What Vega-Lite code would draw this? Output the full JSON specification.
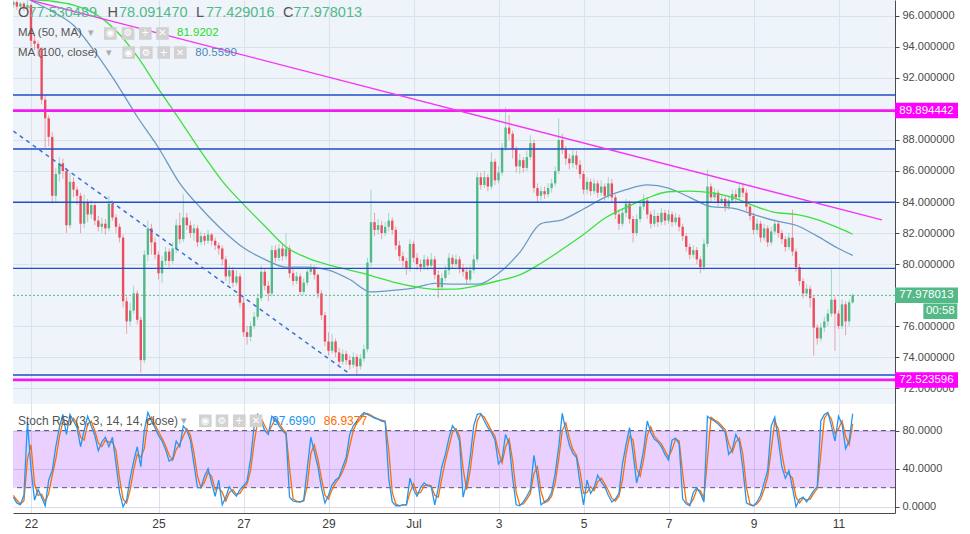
{
  "$schema": "https://vega.github.io/schema/vega-lite/v6.json",
  "background": "white",
  "padding": {"left": 11, "top": 0, "right": 0, "bottom": 0},
  "spacing": 0,
  "config": {
    "view": {"stroke": null},
    "text": {"font": "Liberation Sans"},
    "axis": {"labelFont": "Liberation Sans", "labelColor": "#4a4a4a", "domainColor": "#4a4a4a", "gridColor": "#d9e3ee", "tickColor": "#4a4a4a"}
  },
  "data": {
    "format": {"parse": {"t": "date"}},
    "values": [
      {"t":"2018-06-21T14:00Z","o":96.7,"h":97.0,"l":96.5,"c":96.9,"k":10,"d":12},
      {"t":"2018-06-21T16:00Z","o":96.9,"h":97.0,"l":96.4,"c":96.6,"k":4,"d":7},
      {"t":"2018-06-21T18:00Z","o":96.6,"h":96.9,"l":96.4,"c":96.8,"k":2,"d":3},
      {"t":"2018-06-21T20:00Z","o":96.8,"h":96.9,"l":96.3,"c":96.5,"k":12,"d":6},
      {"t":"2018-06-21T22:00Z","o":96.5,"h":97.0,"l":96.3,"c":96.7,"k":89,"d":50},
      {"t":"2018-06-22T00:00Z","o":96.7,"h":96.8,"l":94.0,"c":94.4,"k":40,"d":65},
      {"t":"2018-06-22T02:00Z","o":94.4,"h":94.8,"l":93.8,"c":94.2,"k":7,"d":24},
      {"t":"2018-06-22T04:00Z","o":94.2,"h":94.4,"l":93.4,"c":93.9,"k":18,"d":12},
      {"t":"2018-06-22T06:00Z","o":93.9,"h":94.0,"l":90.3,"c":90.6,"k":10,"d":13},
      {"t":"2018-06-22T08:00Z","o":90.6,"h":90.9,"l":87.5,"c":89.4,"k":1,"d":5},
      {"t":"2018-06-22T10:00Z","o":89.4,"h":89.6,"l":87.6,"c":88.2,"k":28,"d":14},
      {"t":"2018-06-22T12:00Z","o":88.2,"h":88.5,"l":83.9,"c":84.4,"k":38,"d":33},
      {"t":"2018-06-22T14:00Z","o":84.4,"h":86.2,"l":84.0,"c":85.8,"k":63,"d":50},
      {"t":"2018-06-22T16:00Z","o":85.8,"h":86.9,"l":85.3,"c":86.5,"k":83,"d":73},
      {"t":"2018-06-22T18:00Z","o":86.5,"h":86.8,"l":85.5,"c":86.0,"k":97,"d":90},
      {"t":"2018-06-22T20:00Z","o":86.0,"h":86.2,"l":82.0,"c":82.5,"k":76,"d":86},
      {"t":"2018-06-22T22:00Z","o":82.5,"h":85.9,"l":82.3,"c":85.3,"k":97,"d":86},
      {"t":"2018-06-23T00:00Z","o":85.3,"h":85.6,"l":84.3,"c":84.8,"k":90,"d":93},
      {"t":"2018-06-23T02:00Z","o":84.8,"h":85.0,"l":83.8,"c":84.4,"k":83,"d":87},
      {"t":"2018-06-23T04:00Z","o":84.4,"h":84.6,"l":82.0,"c":82.6,"k":63,"d":73},
      {"t":"2018-06-23T06:00Z","o":82.6,"h":84.5,"l":82.3,"c":84.0,"k":80,"d":70},
      {"t":"2018-06-23T08:00Z","o":84.0,"h":84.2,"l":82.7,"c":83.2,"k":95,"d":87},
      {"t":"2018-06-23T10:00Z","o":83.2,"h":84.1,"l":82.9,"c":83.8,"k":85,"d":90},
      {"t":"2018-06-23T12:00Z","o":83.8,"h":84.0,"l":82.5,"c":82.8,"k":75,"d":80},
      {"t":"2018-06-23T14:00Z","o":82.8,"h":83.1,"l":82.1,"c":82.4,"k":59,"d":67},
      {"t":"2018-06-23T16:00Z","o":82.4,"h":83.0,"l":82.0,"c":82.6,"k":68,"d":63},
      {"t":"2018-06-23T18:00Z","o":82.6,"h":82.9,"l":81.9,"c":82.3,"k":73,"d":70},
      {"t":"2018-06-23T20:00Z","o":82.3,"h":84.4,"l":82.1,"c":83.9,"k":63,"d":68},
      {"t":"2018-06-23T22:00Z","o":83.9,"h":84.1,"l":82.8,"c":83.0,"k":73,"d":68},
      {"t":"2018-06-24T00:00Z","o":83.0,"h":83.2,"l":82.0,"c":82.4,"k":45,"d":59},
      {"t":"2018-06-24T02:00Z","o":82.4,"h":82.6,"l":81.4,"c":81.7,"k":15,"d":30},
      {"t":"2018-06-24T04:00Z","o":81.7,"h":81.9,"l":77.2,"c":77.6,"k":0,"d":8},
      {"t":"2018-06-24T06:00Z","o":77.6,"h":77.9,"l":75.5,"c":76.3,"k":7,"d":4},
      {"t":"2018-06-24T08:00Z","o":76.3,"h":77.5,"l":76.0,"c":77.0,"k":30,"d":18},
      {"t":"2018-06-24T10:00Z","o":77.0,"h":78.6,"l":76.8,"c":78.1,"k":48,"d":39},
      {"t":"2018-06-24T12:00Z","o":78.1,"h":78.3,"l":76.1,"c":76.4,"k":63,"d":55},
      {"t":"2018-06-24T14:00Z","o":76.4,"h":76.6,"l":73.0,"c":73.8,"k":42,"d":52},
      {"t":"2018-06-24T16:00Z","o":73.8,"h":80.9,"l":73.6,"c":80.6,"k":80,"d":61},
      {"t":"2018-06-24T18:00Z","o":80.6,"h":82.8,"l":80.2,"c":82.3,"k":99,"d":90},
      {"t":"2018-06-24T20:00Z","o":82.3,"h":82.6,"l":80.6,"c":81.4,"k":90,"d":94},
      {"t":"2018-06-24T22:00Z","o":81.4,"h":81.7,"l":80.3,"c":80.6,"k":83,"d":86},
      {"t":"2018-06-25T00:00Z","o":80.6,"h":80.8,"l":79.0,"c":79.4,"k":75,"d":79},
      {"t":"2018-06-25T02:00Z","o":79.4,"h":80.5,"l":78.8,"c":80.2,"k":69,"d":72},
      {"t":"2018-06-25T04:00Z","o":80.2,"h":81.1,"l":79.9,"c":80.8,"k":60,"d":64},
      {"t":"2018-06-25T06:00Z","o":80.8,"h":81.0,"l":79.8,"c":80.2,"k":48,"d":54},
      {"t":"2018-06-25T08:00Z","o":80.2,"h":81.4,"l":80.0,"c":81.0,"k":50,"d":49},
      {"t":"2018-06-25T10:00Z","o":81.0,"h":82.9,"l":80.7,"c":82.5,"k":69,"d":60},
      {"t":"2018-06-25T12:00Z","o":82.5,"h":83.3,"l":81.3,"c":81.6,"k":63,"d":66},
      {"t":"2018-06-25T14:00Z","o":81.6,"h":84.5,"l":81.4,"c":83.0,"k":85,"d":74},
      {"t":"2018-06-25T16:00Z","o":83.0,"h":83.3,"l":82.2,"c":82.5,"k":80,"d":82},
      {"t":"2018-06-25T18:00Z","o":82.5,"h":82.8,"l":81.7,"c":82.0,"k":70,"d":75},
      {"t":"2018-06-25T20:00Z","o":82.0,"h":82.6,"l":81.5,"c":82.3,"k":45,"d":57},
      {"t":"2018-06-25T22:00Z","o":82.3,"h":82.5,"l":81.1,"c":81.4,"k":20,"d":32},
      {"t":"2018-06-26T00:00Z","o":81.4,"h":82.1,"l":81.2,"c":81.8,"k":20,"d":20},
      {"t":"2018-06-26T02:00Z","o":81.8,"h":82.0,"l":81.2,"c":81.5,"k":32,"d":26},
      {"t":"2018-06-26T04:00Z","o":81.5,"h":82.2,"l":81.3,"c":81.9,"k":40,"d":36},
      {"t":"2018-06-26T06:00Z","o":81.9,"h":82.0,"l":81.2,"c":81.5,"k":25,"d":32},
      {"t":"2018-06-26T08:00Z","o":81.5,"h":81.7,"l":80.9,"c":81.2,"k":11,"d":18},
      {"t":"2018-06-26T10:00Z","o":81.2,"h":81.4,"l":80.6,"c":81.0,"k":28,"d":20},
      {"t":"2018-06-26T12:00Z","o":81.0,"h":81.2,"l":79.9,"c":80.3,"k":2,"d":15},
      {"t":"2018-06-26T14:00Z","o":80.3,"h":80.5,"l":78.9,"c":79.2,"k":10,"d":6},
      {"t":"2018-06-26T16:00Z","o":79.2,"h":79.9,"l":78.7,"c":79.6,"k":21,"d":15},
      {"t":"2018-06-26T18:00Z","o":79.6,"h":79.8,"l":78.5,"c":78.8,"k":15,"d":18},
      {"t":"2018-06-26T20:00Z","o":78.8,"h":79.6,"l":78.6,"c":79.2,"k":11,"d":13},
      {"t":"2018-06-26T22:00Z","o":79.2,"h":79.4,"l":77.2,"c":77.5,"k":18,"d":14},
      {"t":"2018-06-27T00:00Z","o":77.5,"h":77.8,"l":75.3,"c":75.6,"k":22,"d":20},
      {"t":"2018-06-27T02:00Z","o":75.6,"h":76.0,"l":74.8,"c":75.3,"k":27,"d":24},
      {"t":"2018-06-27T04:00Z","o":75.3,"h":76.3,"l":75.0,"c":76.0,"k":50,"d":38},
      {"t":"2018-06-27T06:00Z","o":76.0,"h":76.9,"l":75.8,"c":76.6,"k":85,"d":67},
      {"t":"2018-06-27T08:00Z","o":76.6,"h":78.1,"l":76.4,"c":77.8,"k":97,"d":90},
      {"t":"2018-06-27T10:00Z","o":77.8,"h":79.9,"l":77.6,"c":79.5,"k":90,"d":93},
      {"t":"2018-06-27T12:00Z","o":79.5,"h":79.7,"l":78.3,"c":78.6,"k":80,"d":85},
      {"t":"2018-06-27T14:00Z","o":78.6,"h":78.9,"l":77.6,"c":78.1,"k":76,"d":78},
      {"t":"2018-06-27T16:00Z","o":78.1,"h":81.2,"l":77.9,"c":80.9,"k":95,"d":85},
      {"t":"2018-06-27T18:00Z","o":80.9,"h":81.2,"l":80.1,"c":80.4,"k":92,"d":93},
      {"t":"2018-06-27T20:00Z","o":80.4,"h":81.3,"l":80.2,"c":81.0,"k":85,"d":88},
      {"t":"2018-06-27T22:00Z","o":81.0,"h":81.3,"l":80.2,"c":80.5,"k":80,"d":82},
      {"t":"2018-06-28T00:00Z","o":80.5,"h":82.0,"l":80.3,"c":81.0,"k":76,"d":78},
      {"t":"2018-06-28T02:00Z","o":81.0,"h":81.2,"l":79.1,"c":79.4,"k":10,"d":40},
      {"t":"2018-06-28T04:00Z","o":79.4,"h":79.7,"l":78.6,"c":78.9,"k":6,"d":8},
      {"t":"2018-06-28T06:00Z","o":78.9,"h":79.5,"l":78.7,"c":79.2,"k":5,"d":6},
      {"t":"2018-06-28T08:00Z","o":79.2,"h":79.4,"l":78.0,"c":78.2,"k":5,"d":5},
      {"t":"2018-06-28T10:00Z","o":78.2,"h":79.1,"l":78.0,"c":78.8,"k":7,"d":6},
      {"t":"2018-06-28T12:00Z","o":78.8,"h":79.8,"l":78.6,"c":79.5,"k":40,"d":22},
      {"t":"2018-06-28T14:00Z","o":79.5,"h":80.0,"l":79.3,"c":79.7,"k":73,"d":56},
      {"t":"2018-06-28T16:00Z","o":79.7,"h":79.9,"l":79.0,"c":79.3,"k":58,"d":65},
      {"t":"2018-06-28T18:00Z","o":79.3,"h":79.4,"l":77.8,"c":78.1,"k":42,"d":50},
      {"t":"2018-06-28T20:00Z","o":78.1,"h":78.3,"l":76.4,"c":76.7,"k":20,"d":30},
      {"t":"2018-06-28T22:00Z","o":76.7,"h":76.9,"l":74.7,"c":75.0,"k":4,"d":12},
      {"t":"2018-06-29T00:00Z","o":75.0,"h":75.6,"l":74.1,"c":74.4,"k":12,"d":8},
      {"t":"2018-06-29T02:00Z","o":74.4,"h":75.5,"l":74.2,"c":75.0,"k":23,"d":18},
      {"t":"2018-06-29T04:00Z","o":75.0,"h":75.2,"l":74.0,"c":74.3,"k":28,"d":25},
      {"t":"2018-06-29T06:00Z","o":74.3,"h":74.6,"l":73.4,"c":73.7,"k":31,"d":30},
      {"t":"2018-06-29T08:00Z","o":73.7,"h":74.5,"l":73.5,"c":74.2,"k":42,"d":37},
      {"t":"2018-06-29T10:00Z","o":74.2,"h":74.4,"l":73.5,"c":73.8,"k":52,"d":47},
      {"t":"2018-06-29T12:00Z","o":73.8,"h":74.1,"l":73.2,"c":73.5,"k":76,"d":64},
      {"t":"2018-06-29T14:00Z","o":73.5,"h":74.3,"l":73.3,"c":74.0,"k":85,"d":80},
      {"t":"2018-06-29T16:00Z","o":74.0,"h":74.2,"l":72.8,"c":73.4,"k":90,"d":88},
      {"t":"2018-06-29T18:00Z","o":73.4,"h":74.2,"l":73.2,"c":73.9,"k":95,"d":92},
      {"t":"2018-06-29T20:00Z","o":73.9,"h":74.8,"l":73.7,"c":74.5,"k":99,"d":97},
      {"t":"2018-06-29T22:00Z","o":74.5,"h":80.4,"l":74.3,"c":80.1,"k":97,"d":98},
      {"t":"2018-06-30T00:00Z","o":80.1,"h":84.8,"l":79.8,"c":82.7,"k":95,"d":96},
      {"t":"2018-06-30T02:00Z","o":82.7,"h":83.3,"l":81.8,"c":82.2,"k":93,"d":94},
      {"t":"2018-06-30T04:00Z","o":82.2,"h":82.9,"l":81.9,"c":82.5,"k":92,"d":92},
      {"t":"2018-06-30T06:00Z","o":82.5,"h":82.8,"l":81.6,"c":82.0,"k":90,"d":91},
      {"t":"2018-06-30T08:00Z","o":82.0,"h":82.7,"l":81.8,"c":82.4,"k":89,"d":90},
      {"t":"2018-06-30T10:00Z","o":82.4,"h":83.3,"l":82.1,"c":82.8,"k":30,"d":60},
      {"t":"2018-06-30T12:00Z","o":82.8,"h":83.0,"l":81.9,"c":82.2,"k":5,"d":15},
      {"t":"2018-06-30T14:00Z","o":82.2,"h":82.4,"l":80.9,"c":81.2,"k":1,"d":3},
      {"t":"2018-06-30T16:00Z","o":81.2,"h":81.5,"l":80.2,"c":80.5,"k":1,"d":1},
      {"t":"2018-06-30T18:00Z","o":80.5,"h":80.8,"l":79.8,"c":80.2,"k":2,"d":2},
      {"t":"2018-06-30T20:00Z","o":80.2,"h":80.4,"l":79.3,"c":79.7,"k":2,"d":2},
      {"t":"2018-06-30T22:00Z","o":79.7,"h":81.6,"l":79.5,"c":81.3,"k":30,"d":15},
      {"t":"2018-07-01T00:00Z","o":81.3,"h":81.5,"l":80.1,"c":80.4,"k":18,"d":24},
      {"t":"2018-07-01T02:00Z","o":80.4,"h":80.7,"l":79.6,"c":80.0,"k":11,"d":14},
      {"t":"2018-07-01T04:00Z","o":80.0,"h":80.3,"l":79.5,"c":79.8,"k":20,"d":15},
      {"t":"2018-07-01T06:00Z","o":79.8,"h":80.6,"l":79.6,"c":80.3,"k":25,"d":22},
      {"t":"2018-07-01T08:00Z","o":80.3,"h":80.5,"l":79.6,"c":79.9,"k":22,"d":23},
      {"t":"2018-07-01T10:00Z","o":79.9,"h":80.7,"l":79.7,"c":80.3,"k":21,"d":22},
      {"t":"2018-07-01T12:00Z","o":80.3,"h":80.5,"l":79.0,"c":79.3,"k":2,"d":12},
      {"t":"2018-07-01T14:00Z","o":79.3,"h":79.6,"l":77.8,"c":78.5,"k":20,"d":10},
      {"t":"2018-07-01T16:00Z","o":78.5,"h":79.4,"l":78.3,"c":79.1,"k":42,"d":30},
      {"t":"2018-07-01T18:00Z","o":79.1,"h":79.9,"l":78.9,"c":79.6,"k":55,"d":48},
      {"t":"2018-07-01T20:00Z","o":79.6,"h":80.7,"l":79.3,"c":80.4,"k":72,"d":63},
      {"t":"2018-07-01T22:00Z","o":80.4,"h":80.6,"l":79.7,"c":80.0,"k":85,"d":78},
      {"t":"2018-07-02T00:00Z","o":80.0,"h":80.6,"l":79.8,"c":80.3,"k":80,"d":82},
      {"t":"2018-07-02T02:00Z","o":80.3,"h":80.5,"l":79.4,"c":79.7,"k":69,"d":74},
      {"t":"2018-07-02T04:00Z","o":79.7,"h":80.0,"l":79.2,"c":79.5,"k":10,"d":40},
      {"t":"2018-07-02T06:00Z","o":79.5,"h":79.8,"l":78.7,"c":79.0,"k":25,"d":18},
      {"t":"2018-07-02T08:00Z","o":79.0,"h":79.9,"l":78.8,"c":79.6,"k":52,"d":38},
      {"t":"2018-07-02T10:00Z","o":79.6,"h":80.6,"l":79.4,"c":80.3,"k":85,"d":68},
      {"t":"2018-07-02T12:00Z","o":80.3,"h":85.9,"l":80.1,"c":85.6,"k":97,"d":90},
      {"t":"2018-07-02T14:00Z","o":85.6,"h":85.9,"l":84.8,"c":85.1,"k":98,"d":97},
      {"t":"2018-07-02T16:00Z","o":85.1,"h":86.0,"l":84.9,"c":85.6,"k":90,"d":94},
      {"t":"2018-07-02T18:00Z","o":85.6,"h":85.8,"l":84.7,"c":85.0,"k":83,"d":87},
      {"t":"2018-07-02T20:00Z","o":85.0,"h":87.2,"l":84.8,"c":86.6,"k":78,"d":80},
      {"t":"2018-07-02T22:00Z","o":86.6,"h":86.8,"l":85.1,"c":85.4,"k":70,"d":74},
      {"t":"2018-07-03T00:00Z","o":85.4,"h":86.3,"l":85.2,"c":85.9,"k":45,"d":58},
      {"t":"2018-07-03T02:00Z","o":85.9,"h":87.8,"l":85.7,"c":87.5,"k":50,"d":46},
      {"t":"2018-07-03T04:00Z","o":87.5,"h":90.1,"l":87.3,"c":88.8,"k":76,"d":63},
      {"t":"2018-07-03T06:00Z","o":88.8,"h":89.6,"l":88.0,"c":88.4,"k":66,"d":71},
      {"t":"2018-07-03T08:00Z","o":88.4,"h":88.6,"l":86.8,"c":87.4,"k":30,"d":48},
      {"t":"2018-07-03T10:00Z","o":87.4,"h":87.6,"l":85.9,"c":86.3,"k":2,"d":15},
      {"t":"2018-07-03T12:00Z","o":86.3,"h":87.1,"l":85.8,"c":86.7,"k":1,"d":2},
      {"t":"2018-07-03T14:00Z","o":86.7,"h":86.9,"l":85.9,"c":86.2,"k":5,"d":3},
      {"t":"2018-07-03T16:00Z","o":86.2,"h":87.3,"l":86.0,"c":86.9,"k":11,"d":8},
      {"t":"2018-07-03T18:00Z","o":86.9,"h":88.3,"l":86.7,"c":87.8,"k":18,"d":14},
      {"t":"2018-07-03T20:00Z","o":87.8,"h":88.0,"l":84.6,"c":84.9,"k":54,"d":35},
      {"t":"2018-07-03T22:00Z","o":84.9,"h":85.2,"l":84.0,"c":84.4,"k":31,"d":42},
      {"t":"2018-07-04T00:00Z","o":84.4,"h":85.0,"l":84.1,"c":84.7,"k":2,"d":16},
      {"t":"2018-07-04T02:00Z","o":84.7,"h":85.0,"l":84.2,"c":84.5,"k":5,"d":4},
      {"t":"2018-07-04T04:00Z","o":84.5,"h":85.2,"l":84.3,"c":84.9,"k":8,"d":6},
      {"t":"2018-07-04T06:00Z","o":84.9,"h":85.5,"l":84.6,"c":85.2,"k":15,"d":11},
      {"t":"2018-07-04T08:00Z","o":85.2,"h":86.3,"l":85.0,"c":86.0,"k":35,"d":25},
      {"t":"2018-07-04T10:00Z","o":86.0,"h":89.4,"l":85.8,"c":88.0,"k":63,"d":50},
      {"t":"2018-07-04T12:00Z","o":88.0,"h":88.4,"l":87.1,"c":87.4,"k":98,"d":80},
      {"t":"2018-07-04T14:00Z","o":87.4,"h":87.6,"l":86.4,"c":86.8,"k":80,"d":88},
      {"t":"2018-07-04T16:00Z","o":86.8,"h":87.1,"l":86.1,"c":86.5,"k":65,"d":72},
      {"t":"2018-07-04T18:00Z","o":86.5,"h":87.4,"l":86.2,"c":87.0,"k":56,"d":60},
      {"t":"2018-07-04T20:00Z","o":87.0,"h":87.3,"l":86.1,"c":86.4,"k":52,"d":54},
      {"t":"2018-07-04T22:00Z","o":86.4,"h":86.7,"l":85.5,"c":85.8,"k":25,"d":38},
      {"t":"2018-07-05T00:00Z","o":85.8,"h":86.0,"l":84.5,"c":84.8,"k":2,"d":14},
      {"t":"2018-07-05T02:00Z","o":84.8,"h":85.6,"l":84.5,"c":85.3,"k":28,"d":15},
      {"t":"2018-07-05T04:00Z","o":85.3,"h":85.5,"l":84.4,"c":84.7,"k":14,"d":21},
      {"t":"2018-07-05T06:00Z","o":84.7,"h":85.5,"l":84.5,"c":85.2,"k":20,"d":17},
      {"t":"2018-07-05T08:00Z","o":85.2,"h":85.4,"l":84.3,"c":84.6,"k":33,"d":26},
      {"t":"2018-07-05T10:00Z","o":84.6,"h":85.4,"l":84.4,"c":85.0,"k":26,"d":30},
      {"t":"2018-07-05T12:00Z","o":85.0,"h":85.2,"l":84.1,"c":84.4,"k":21,"d":24},
      {"t":"2018-07-05T14:00Z","o":84.4,"h":85.6,"l":84.2,"c":85.2,"k":12,"d":17},
      {"t":"2018-07-05T16:00Z","o":85.2,"h":85.5,"l":84.0,"c":84.3,"k":5,"d":9},
      {"t":"2018-07-05T18:00Z","o":84.3,"h":84.5,"l":82.9,"c":83.2,"k":8,"d":6},
      {"t":"2018-07-05T20:00Z","o":83.2,"h":83.5,"l":82.2,"c":82.6,"k":14,"d":11},
      {"t":"2018-07-05T22:00Z","o":82.6,"h":83.6,"l":82.4,"c":83.3,"k":45,"d":28},
      {"t":"2018-07-06T00:00Z","o":83.3,"h":84.2,"l":83.0,"c":83.9,"k":65,"d":55},
      {"t":"2018-07-06T02:00Z","o":83.9,"h":84.1,"l":82.6,"c":82.9,"k":83,"d":74},
      {"t":"2018-07-06T04:00Z","o":82.9,"h":83.1,"l":81.4,"c":82.0,"k":56,"d":70},
      {"t":"2018-07-06T06:00Z","o":82.0,"h":83.2,"l":81.8,"c":82.9,"k":25,"d":40},
      {"t":"2018-07-06T08:00Z","o":82.9,"h":84.0,"l":82.7,"c":83.7,"k":40,"d":32},
      {"t":"2018-07-06T10:00Z","o":83.7,"h":84.5,"l":83.5,"c":84.1,"k":60,"d":50},
      {"t":"2018-07-06T12:00Z","o":84.1,"h":84.3,"l":82.9,"c":83.2,"k":90,"d":75},
      {"t":"2018-07-06T14:00Z","o":83.2,"h":83.4,"l":82.3,"c":82.6,"k":78,"d":84},
      {"t":"2018-07-06T16:00Z","o":82.6,"h":83.5,"l":82.4,"c":83.1,"k":71,"d":74},
      {"t":"2018-07-06T18:00Z","o":83.1,"h":83.3,"l":82.4,"c":82.7,"k":68,"d":70},
      {"t":"2018-07-06T20:00Z","o":82.7,"h":83.6,"l":82.5,"c":83.3,"k":63,"d":66},
      {"t":"2018-07-06T22:00Z","o":83.3,"h":83.5,"l":82.5,"c":82.8,"k":55,"d":59},
      {"t":"2018-07-07T00:00Z","o":82.8,"h":83.5,"l":82.6,"c":83.2,"k":49,"d":52},
      {"t":"2018-07-07T02:00Z","o":83.2,"h":83.4,"l":82.4,"c":82.7,"k":70,"d":60},
      {"t":"2018-07-07T04:00Z","o":82.7,"h":83.3,"l":82.5,"c":83.0,"k":72,"d":71},
      {"t":"2018-07-07T06:00Z","o":83.0,"h":83.2,"l":82.1,"c":82.4,"k":66,"d":69},
      {"t":"2018-07-07T08:00Z","o":82.4,"h":82.6,"l":81.5,"c":81.8,"k":8,"d":35},
      {"t":"2018-07-07T10:00Z","o":81.8,"h":82.0,"l":80.8,"c":81.1,"k":3,"d":5},
      {"t":"2018-07-07T12:00Z","o":81.1,"h":81.3,"l":80.3,"c":80.6,"k":1,"d":2},
      {"t":"2018-07-07T14:00Z","o":80.6,"h":81.2,"l":80.4,"c":80.9,"k":15,"d":8},
      {"t":"2018-07-07T16:00Z","o":80.9,"h":81.1,"l":80.0,"c":80.3,"k":20,"d":18},
      {"t":"2018-07-07T18:00Z","o":80.3,"h":80.5,"l":79.4,"c":79.8,"k":14,"d":17},
      {"t":"2018-07-07T20:00Z","o":79.8,"h":81.6,"l":79.6,"c":81.3,"k":5,"d":9},
      {"t":"2018-07-07T22:00Z","o":81.3,"h":86.1,"l":81.1,"c":85.0,"k":95,"d":50},
      {"t":"2018-07-08T00:00Z","o":85.0,"h":85.2,"l":84.0,"c":84.3,"k":92,"d":94},
      {"t":"2018-07-08T02:00Z","o":84.3,"h":84.9,"l":84.1,"c":84.6,"k":90,"d":91},
      {"t":"2018-07-08T04:00Z","o":84.6,"h":84.8,"l":83.7,"c":84.0,"k":87,"d":89},
      {"t":"2018-07-08T06:00Z","o":84.0,"h":84.5,"l":83.8,"c":84.2,"k":83,"d":85},
      {"t":"2018-07-08T08:00Z","o":84.2,"h":84.4,"l":83.4,"c":83.7,"k":78,"d":81},
      {"t":"2018-07-08T10:00Z","o":83.7,"h":84.4,"l":83.5,"c":84.1,"k":55,"d":66},
      {"t":"2018-07-08T12:00Z","o":84.1,"h":84.8,"l":83.9,"c":84.5,"k":60,"d":57},
      {"t":"2018-07-08T14:00Z","o":84.5,"h":84.8,"l":84.0,"c":84.3,"k":76,"d":68},
      {"t":"2018-07-08T16:00Z","o":84.3,"h":85.3,"l":84.1,"c":84.9,"k":68,"d":72},
      {"t":"2018-07-08T18:00Z","o":84.9,"h":85.2,"l":84.3,"c":84.6,"k":40,"d":55},
      {"t":"2018-07-08T20:00Z","o":84.6,"h":84.8,"l":83.4,"c":83.7,"k":4,"d":20},
      {"t":"2018-07-08T22:00Z","o":83.7,"h":83.9,"l":82.8,"c":83.1,"k":2,"d":3},
      {"t":"2018-07-09T00:00Z","o":83.1,"h":83.3,"l":81.9,"c":82.2,"k":1,"d":1},
      {"t":"2018-07-09T02:00Z","o":82.2,"h":82.9,"l":81.9,"c":82.6,"k":5,"d":3},
      {"t":"2018-07-09T04:00Z","o":82.6,"h":82.8,"l":81.4,"c":81.7,"k":12,"d":8},
      {"t":"2018-07-09T06:00Z","o":81.7,"h":82.6,"l":81.5,"c":82.3,"k":25,"d":18},
      {"t":"2018-07-09T08:00Z","o":82.3,"h":82.5,"l":81.1,"c":81.4,"k":38,"d":31},
      {"t":"2018-07-09T10:00Z","o":81.4,"h":82.4,"l":81.2,"c":82.1,"k":85,"d":60},
      {"t":"2018-07-09T12:00Z","o":82.1,"h":82.9,"l":81.9,"c":82.6,"k":94,"d":90},
      {"t":"2018-07-09T14:00Z","o":82.6,"h":82.8,"l":81.7,"c":82.0,"k":70,"d":82},
      {"t":"2018-07-09T16:00Z","o":82.0,"h":82.2,"l":81.3,"c":81.6,"k":42,"d":56},
      {"t":"2018-07-09T18:00Z","o":81.6,"h":81.8,"l":80.8,"c":81.1,"k":30,"d":36},
      {"t":"2018-07-09T20:00Z","o":81.1,"h":82.0,"l":80.9,"c":81.7,"k":38,"d":34},
      {"t":"2018-07-09T22:00Z","o":81.7,"h":83.5,"l":80.5,"c":80.8,"k":20,"d":30},
      {"t":"2018-07-10T00:00Z","o":80.8,"h":81.0,"l":79.5,"c":79.8,"k":0,"d":10},
      {"t":"2018-07-10T02:00Z","o":79.8,"h":80.0,"l":78.6,"c":78.9,"k":8,"d":4},
      {"t":"2018-07-10T04:00Z","o":78.9,"h":79.1,"l":77.8,"c":78.1,"k":10,"d":9},
      {"t":"2018-07-10T06:00Z","o":78.1,"h":78.7,"l":77.9,"c":78.4,"k":5,"d":7},
      {"t":"2018-07-10T08:00Z","o":78.4,"h":78.6,"l":77.2,"c":77.8,"k":11,"d":8},
      {"t":"2018-07-10T10:00Z","o":77.8,"h":78.0,"l":74.1,"c":75.9,"k":17,"d":14},
      {"t":"2018-07-10T12:00Z","o":75.9,"h":76.1,"l":74.8,"c":75.2,"k":21,"d":19},
      {"t":"2018-07-10T14:00Z","o":75.2,"h":76.2,"l":75.0,"c":75.9,"k":90,"d":55},
      {"t":"2018-07-10T16:00Z","o":75.9,"h":76.6,"l":75.6,"c":76.3,"k":97,"d":93},
      {"t":"2018-07-10T18:00Z","o":76.3,"h":77.1,"l":76.0,"c":76.8,"k":99,"d":98},
      {"t":"2018-07-10T20:00Z","o":76.8,"h":79.7,"l":76.6,"c":77.7,"k":85,"d":92},
      {"t":"2018-07-10T22:00Z","o":77.7,"h":77.9,"l":74.4,"c":76.8,"k":69,"d":77},
      {"t":"2018-07-11T00:00Z","o":76.8,"h":77.0,"l":75.8,"c":76.0,"k":95,"d":82},
      {"t":"2018-07-11T02:00Z","o":76.0,"h":77.7,"l":75.8,"c":77.4,"k":87,"d":90},
      {"t":"2018-07-11T04:00Z","o":77.4,"h":77.6,"l":75.4,"c":76.3,"k":61,"d":74},
      {"t":"2018-07-11T06:00Z","o":76.3,"h":77.7,"l":76.0,"c":77.530489,"k":69,"d":65},
      {"t":"2018-07-11T08:00Z","o":77.530489,"h":78.09147,"l":77.429016,"c":77.978013,"k":97.699,"d":86.9377}
    ]
  },
  "vconcat": [
    {
      "width": 882,
      "height": 404,
      "view": {"fill": "#eff4fb", "stroke": null},
      "resolve": {"axis": {"x": "independent", "y": "independent"}},
      "layer": [
        {
          "mark": {"type": "rule", "strokeWidth": 1, "opacity": 0.5, "clip": true},
          "encoding": {
            "x": {"field": "t", "type": "temporal",
              "scale": {"type": "utc", "domain": [{"year":2018,"month":6,"date":21,"hours":13,"minutes":50,"utc":true},{"year":2018,"month":7,"date":12,"hours":7,"minutes":54,"utc":true}]},
              "axis": {"orient": "bottom", "values": [{"year":2018,"month":6,"date":22,"utc":true},{"year":2018,"month":6,"date":25,"utc":true},{"year":2018,"month":6,"date":27,"utc":true},{"year":2018,"month":6,"date":29,"utc":true},{"year":2018,"month":7,"date":1,"utc":true},{"year":2018,"month":7,"date":3,"utc":true},{"year":2018,"month":7,"date":5,"utc":true},{"year":2018,"month":7,"date":7,"utc":true},{"year":2018,"month":7,"date":9,"utc":true},{"year":2018,"month":7,"date":11,"utc":true}],
                "labels": false, "ticks": false, "domain": true, "grid": true, "title": null, "zindex": 0}},
            "y": {"field": "l", "type": "quantitative",
              "scale": {"domain": [70.97, 97.03], "zero": false, "nice": false},
              "axis": {"orient": "right", "values": [72,74,76,80,82,84,86,88,92,94,96], "format": ".6f", "ticks": true, "tickSize": 4, "labelPadding": 3, "labelFontSize": 11, "labelOverlap": false, "labelBound": false, "grid": true, "title": null, "zindex": 0}},
            "y2": {"field": "h"},
            "color": {"condition": {"test": "datum.c >= datum.o", "value": "#53b987"}, "value": "#eb4d5c"}
          }
        },
        {
          "mark": {"type": "rule", "strokeWidth": 2.4, "clip": true},
          "encoding": {
            "x": {"field": "t", "type": "temporal", "axis": null},
            "y": {"field": "o", "type": "quantitative", "axis": null},
            "y2": {"field": "c"},
            "color": {"condition": {"test": "datum.c >= datum.o", "value": "#53b987"}, "value": "#eb4d5c"}
          }
        },
        {
          "data": {
            "format": {"parse": {"t": "date"}},
            "values": [
              {"t":"2018-06-21T12:00Z","m50":97.15,"m100":97.8},
              {"t":"2018-06-22T00:00Z","m50":97.05,"m100":97.0},
              {"t":"2018-06-22T12:00Z","m50":96.95,"m100":96.3},
              {"t":"2018-06-23T00:00Z","m50":96.7,"m100":95.4},
              {"t":"2018-06-23T12:00Z","m50":96.15,"m100":93.7},
              {"t":"2018-06-24T00:00Z","m50":95.05,"m100":91.7},
              {"t":"2018-06-24T12:00Z","m50":93.4,"m100":89.5},
              {"t":"2018-06-25T00:00Z","m50":91.3,"m100":87.5},
              {"t":"2018-06-25T12:00Z","m50":89.3,"m100":85.2},
              {"t":"2018-06-26T00:00Z","m50":87.25,"m100":83.6},
              {"t":"2018-06-26T12:00Z","m50":85.35,"m100":82.2},
              {"t":"2018-06-27T00:00Z","m50":83.85,"m100":81.05},
              {"t":"2018-06-27T12:00Z","m50":82.45,"m100":80.3},
              {"t":"2018-06-28T00:00Z","m50":81.1,"m100":79.8},
              {"t":"2018-06-28T12:00Z","m50":80.4,"m100":79.8},
              {"t":"2018-06-29T00:00Z","m50":79.95,"m100":79.6},
              {"t":"2018-06-29T12:00Z","m50":79.6,"m100":79.0},
              {"t":"2018-06-30T00:00Z","m50":79.25,"m100":78.2},
              {"t":"2018-06-30T12:00Z","m50":78.85,"m100":78.3},
              {"t":"2018-07-01T00:00Z","m50":78.55,"m100":78.45},
              {"t":"2018-07-01T12:00Z","m50":78.37,"m100":78.75},
              {"t":"2018-07-02T00:00Z","m50":78.38,"m100":78.7},
              {"t":"2018-07-02T12:00Z","m50":78.6,"m100":78.7},
              {"t":"2018-07-03T00:00Z","m50":78.92,"m100":79.4},
              {"t":"2018-07-03T12:00Z","m50":79.3,"m100":80.75},
              {"t":"2018-07-04T00:00Z","m50":80.05,"m100":82.6},
              {"t":"2018-07-04T12:00Z","m50":80.95,"m100":82.85},
              {"t":"2018-07-05T00:00Z","m50":81.9,"m100":83.55},
              {"t":"2018-07-05T12:00Z","m50":82.95,"m100":84.3},
              {"t":"2018-07-06T00:00Z","m50":83.65,"m100":84.8},
              {"t":"2018-07-06T12:00Z","m50":84.25,"m100":85.1},
              {"t":"2018-07-07T00:00Z","m50":84.66,"m100":84.9},
              {"t":"2018-07-07T12:00Z","m50":84.7,"m100":84.3},
              {"t":"2018-07-08T00:00Z","m50":84.6,"m100":83.7},
              {"t":"2018-07-08T12:00Z","m50":84.3,"m100":83.6},
              {"t":"2018-07-09T00:00Z","m50":83.77,"m100":83.2},
              {"t":"2018-07-09T12:00Z","m50":83.33,"m100":82.8},
              {"t":"2018-07-10T00:00Z","m50":83.2,"m100":82.5},
              {"t":"2018-07-10T12:00Z","m50":82.87,"m100":81.8},
              {"t":"2018-07-11T00:00Z","m50":82.33,"m100":81.0},
              {"t":"2018-07-11T08:00Z","m50":81.92,"m100":80.56}
            ]
          },
          "layer": [
            {
              "mark": {"type": "line", "color": "#6a9bc4", "strokeWidth": 1.3, "clip": true, "interpolate": "monotone"},
              "encoding": {
                "x": {"field": "t", "type": "temporal", "axis": null},
                "y": {"field": "m100", "type": "quantitative", "axis": null}
              }
            },
            {
              "mark": {"type": "line", "color": "#3ce13c", "strokeWidth": 1.3, "clip": true, "interpolate": "monotone"},
              "encoding": {
                "x": {"field": "t", "type": "temporal", "axis": null},
                "y": {"field": "m50", "type": "quantitative", "axis": null}
              }
            }
          ]
        },
        {
          "data": {"values": [{"p": 90.9}, {"p": 87.42}, {"p": 83.98}, {"p": 79.72}, {"p": 72.84}]},
          "mark": {"type": "rule", "color": "#1f4fc6", "strokeWidth": 1.4},
          "encoding": {"y": {"field": "p", "type": "quantitative", "axis": null}}
        },
        {
          "data": {"values": [{"p": 89.894442}, {"p": 72.523596}]},
          "mark": {"type": "rule", "color": "#f21cf2", "strokeWidth": 2.6},
          "encoding": {"y": {"field": "p", "type": "quantitative", "axis": null}}
        },
        {
          "data": {"values": [{"p": 77.978013}]},
          "mark": {"type": "rule", "color": "#53b987", "strokeWidth": 1, "strokeDash": [2, 2]},
          "encoding": {"y": {"field": "p", "type": "quantitative", "axis": null}}
        },
        {
          "data": {"format": {"parse": {"t": "date", "t2": "date"}}, "values": [{"t": "2018-06-22T00:00Z", "p": 97.01, "t2": "2018-07-12T00:30Z", "p2": 82.84}]},
          "mark": {"type": "rule", "color": "#f533f5", "strokeWidth": 1.3, "clip": true},
          "encoding": {
            "x": {"field": "t", "type": "temporal", "axis": null},
            "x2": {"field": "t2"},
            "y": {"field": "p", "type": "quantitative", "axis": null},
            "y2": {"field": "p2"}
          }
        },
        {
          "data": {"format": {"parse": {"t": "date", "t2": "date"}}, "values": [{"t": "2018-06-21T14:00Z", "p": 88.58, "t2": "2018-06-29T11:30Z", "p2": 72.95}]},
          "mark": {"type": "rule", "color": "#3a6fd8", "strokeWidth": 1.5, "strokeDash": [4, 4], "clip": true},
          "encoding": {
            "x": {"field": "t", "type": "temporal", "axis": null},
            "x2": {"field": "t2"},
            "y": {"field": "p", "type": "quantitative", "axis": null},
            "y2": {"field": "p2"}
          }
        },
        {
          "data": {"values": [{}]},
          "encoding": {
            "x": {"datum": {"year":2018,"month":6,"date":21,"hours":16,"minutes":40,"utc":true}, "type": "temporal", "axis": null}
          },
          "layer": [
            {"mark": {"type": "text", "text": "O", "align": "left", "baseline": "middle", "fontSize": 14.5, "color": "#555555", "dx": 0},
             "encoding": {"y": {"datum": 96.19, "type": "quantitative", "axis": null}}},
            {"mark": {"type": "text", "text": "77.530489", "align": "left", "baseline": "middle", "fontSize": 14.5, "color": "#53b987", "dx": 10.5},
             "encoding": {"y": {"datum": 96.19, "type": "quantitative", "axis": null}}},
            {"mark": {"type": "text", "text": "H", "align": "left", "baseline": "middle", "fontSize": 14.5, "color": "#555555", "dx": 89.5},
             "encoding": {"y": {"datum": 96.19, "type": "quantitative", "axis": null}}},
            {"mark": {"type": "text", "text": "78.091470", "align": "left", "baseline": "middle", "fontSize": 14.5, "color": "#53b987", "dx": 101},
             "encoding": {"y": {"datum": 96.19, "type": "quantitative", "axis": null}}},
            {"mark": {"type": "text", "text": "L", "align": "left", "baseline": "middle", "fontSize": 14.5, "color": "#555555", "dx": 178},
             "encoding": {"y": {"datum": 96.19, "type": "quantitative", "axis": null}}},
            {"mark": {"type": "text", "text": "77.429016", "align": "left", "baseline": "middle", "fontSize": 14.5, "color": "#53b987", "dx": 188},
             "encoding": {"y": {"datum": 96.19, "type": "quantitative", "axis": null}}},
            {"mark": {"type": "text", "text": "C", "align": "left", "baseline": "middle", "fontSize": 14.5, "color": "#555555", "dx": 265},
             "encoding": {"y": {"datum": 96.19, "type": "quantitative", "axis": null}}},
            {"mark": {"type": "text", "text": "77.978013", "align": "left", "baseline": "middle", "fontSize": 14.5, "color": "#53b987", "dx": 275.5},
             "encoding": {"y": {"datum": 96.19, "type": "quantitative", "axis": null}}},
            {"mark": {"type": "text", "text": "MA (50, MA)", "align": "left", "baseline": "middle", "fontSize": 11.5, "color": "#555555", "dx": 0},
             "encoding": {"y": {"datum": 94.87, "type": "quantitative", "axis": null}}},
            {"mark": {"type": "text", "text": "▾", "align": "center", "baseline": "middle", "fontSize": 11, "color": "#aaaaaa", "dx": 72.5},
             "encoding": {"y": {"datum": 94.87, "type": "quantitative", "axis": null}}},
            {"mark": {"type": "text", "text": "81.9202", "align": "left", "baseline": "middle", "fontSize": 11.5, "color": "#22dd22", "dx": 159},
             "encoding": {"y": {"datum": 94.87, "type": "quantitative", "axis": null}}},
            {"mark": {"type": "text", "text": "MA (100, close)", "align": "left", "baseline": "middle", "fontSize": 11.5, "color": "#555555", "dx": 0},
             "encoding": {"y": {"datum": 93.64, "type": "quantitative", "axis": null}}},
            {"mark": {"type": "text", "text": "▾", "align": "center", "baseline": "middle", "fontSize": 11, "color": "#aaaaaa", "dx": 90.5},
             "encoding": {"y": {"datum": 93.64, "type": "quantitative", "axis": null}}},
            {"mark": {"type": "text", "text": "80.5590", "align": "left", "baseline": "middle", "fontSize": 11.5, "color": "#4c88b8", "dx": 177.3},
             "encoding": {"y": {"datum": 93.64, "type": "quantitative", "axis": null}}}
          ]
        },
        {
          "data": {
            "format": {"parse": {"t": "date"}},
            "values": [
              {"t": "2018-06-23T20:47Z", "p": 94.87, "g": "◉"},
              {"t": "2018-06-24T06:47Z", "p": 94.87, "g": "⚙"},
              {"t": "2018-06-24T16:33Z", "p": 94.87, "g": "+"},
              {"t": "2018-06-25T02:15Z", "p": 94.87, "g": "✕"},
              {"t": "2018-06-24T07:10Z", "p": 93.64, "g": "◉"},
              {"t": "2018-06-24T17:06Z", "p": 93.64, "g": "⚙"},
              {"t": "2018-06-25T02:56Z", "p": 93.64, "g": "+"},
              {"t": "2018-06-25T12:18Z", "p": 93.64, "g": "✕"}
            ]
          },
          "encoding": {
            "x": {"field": "t", "type": "temporal", "axis": null},
            "y": {"field": "p", "type": "quantitative", "axis": null}
          },
          "layer": [
            {"mark": {"type": "square", "size": 160, "color": "#d2d2d2", "opacity": 1, "filled": true}},
            {"mark": {"type": "text", "color": "white", "fontSize": 10, "align": "center", "baseline": "middle", "font": "DejaVu Sans"},
             "encoding": {"text": {"field": "g"}}}
          ]
        },
        {
          "data": {"values": [{"p": 89.894442}, {"p": 72.523596}]},
          "encoding": {
            "x": {"datum": {"year":2018,"month":7,"date":13,"hours":1,"minutes":41,"utc":true}, "type": "temporal", "axis": null},
            "y": {"field": "p", "type": "quantitative", "axis": null}
          },
          "layer": [
            {"mark": {"type": "tick", "orient": "horizontal", "size": 63, "thickness": 15.5, "color": "#ff00ff", "opacity": 1}},
            {"mark": {"type": "text", "color": "white", "fontSize": 11.5, "align": "center", "baseline": "middle"},
             "encoding": {"text": {"field": "p", "type": "quantitative", "format": ".6f"}}}
          ]
        },
        {
          "data": {"values": [{"p": 77.978013}]},
          "encoding": {
            "x": {"datum": {"year":2018,"month":7,"date":13,"hours":1,"minutes":41,"utc":true}, "type": "temporal", "axis": null},
            "y": {"field": "p", "type": "quantitative", "axis": null}
          },
          "layer": [
            {"mark": {"type": "tick", "orient": "horizontal", "size": 63, "thickness": 15.5, "color": "#53b987", "opacity": 1}},
            {"mark": {"type": "text", "color": "white", "fontSize": 11.5, "align": "center", "baseline": "middle"},
             "encoding": {"text": {"field": "p", "type": "quantitative", "format": ".6f"}}}
          ]
        },
        {
          "data": {"values": [{"p": 76.955, "s": "00:58"}]},
          "encoding": {
            "x": {"datum": {"year":2018,"month":7,"date":13,"hours":9,"minutes":30,"utc":true}, "type": "temporal", "axis": null},
            "y": {"field": "p", "type": "quantitative", "axis": null}
          },
          "layer": [
            {"mark": {"type": "tick", "orient": "horizontal", "size": 34, "thickness": 15.5, "color": "#53b987", "opacity": 1}},
            {"mark": {"type": "text", "color": "white", "fontSize": 11.5, "align": "center", "baseline": "middle"},
             "encoding": {"text": {"field": "s"}}}
          ]
        }
      ]
    },
    {
      "width": 882,
      "height": 109,
      "view": {"fill": "white", "stroke": null},
      "layer": [
        {
          "data": {"values": [{}]},
          "mark": {"type": "rect", "color": "#9a2bff", "opacity": 0.22},
          "encoding": {
            "y": {"datum": 80, "type": "quantitative"},
            "y2": {"datum": 20}
          }
        },
        {
          "data": {"values": [{"v": 80}, {"v": 20}]},
          "mark": {"type": "rule", "color": "#5a5a6a", "strokeWidth": 1, "strokeDash": [5, 4]},
          "encoding": {"y": {"field": "v", "type": "quantitative"}}
        },
        {
          "mark": {"type": "line", "color": "#ff6d00", "strokeWidth": 1.3, "clip": true},
          "encoding": {
            "x": {"field": "t", "type": "temporal",
              "scale": {"type": "utc", "domain": [{"year":2018,"month":6,"date":21,"hours":13,"minutes":50,"utc":true},{"year":2018,"month":7,"date":12,"hours":7,"minutes":54,"utc":true}]},
              "axis": {"orient": "bottom", "values": [{"year":2018,"month":6,"date":22,"utc":true},{"year":2018,"month":6,"date":25,"utc":true},{"year":2018,"month":6,"date":27,"utc":true},{"year":2018,"month":6,"date":29,"utc":true},{"year":2018,"month":7,"date":1,"utc":true},{"year":2018,"month":7,"date":3,"utc":true},{"year":2018,"month":7,"date":5,"utc":true},{"year":2018,"month":7,"date":7,"utc":true},{"year":2018,"month":7,"date":9,"utc":true},{"year":2018,"month":7,"date":11,"utc":true}],
                "labelExpr": "utcdate(datum.value) == 1 ? 'Jul' : '' + utcdate(datum.value)",
                "ticks": false, "labelPadding": 5, "labelFontSize": 12, "labelColor": "#3c3c3c", "domain": true, "grid": true, "title": null, "zindex": 0, "labelOverlap": false}},
            "y": {"field": "d", "type": "quantitative",
              "scale": {"domain": [-6.6, 107.9], "zero": false, "nice": false},
              "axis": {"orient": "right", "values": [0, 40, 80], "format": ".4f", "ticks": true, "tickSize": 4, "labelPadding": 3, "labelFontSize": 11, "grid": true, "gridColor": "#dcd8ee", "title": null, "zindex": 0}}
          }
        },
        {
          "mark": {"type": "line", "color": "#2196f3", "strokeWidth": 1.3, "clip": true},
          "encoding": {
            "x": {"field": "t", "type": "temporal"},
            "y": {"field": "k", "type": "quantitative"}
          }
        },
        {
          "data": {"values": [{}]},
          "encoding": {
            "x": {"datum": {"year":2018,"month":6,"date":21,"hours":16,"minutes":40,"utc":true}, "type": "temporal"},
            "y": {"datum": 90.25, "type": "quantitative"}
          },
          "layer": [
            {"mark": {"type": "text", "text": "Stoch RSI (3, 3, 14, 14, close)", "align": "left", "baseline": "middle", "fontSize": 12, "color": "#555555", "dx": 0}},
            {"mark": {"type": "text", "text": "▾", "align": "center", "baseline": "middle", "fontSize": 11, "color": "#aaaaaa", "dx": 165.5}},
            {"mark": {"type": "text", "text": "97.6990", "align": "left", "baseline": "middle", "fontSize": 12, "color": "#2196f3", "dx": 254}},
            {"mark": {"type": "text", "text": "86.9377", "align": "left", "baseline": "middle", "fontSize": 12, "color": "#ff6d00", "dx": 305.7}}
          ]
        },
        {
          "data": {
            "format": {"parse": {"t": "date"}},
            "values": [
              {"t": "2018-06-26T02:26Z", "p": 90.25, "g": "◉"},
              {"t": "2018-06-26T11:51Z", "p": 90.25, "g": "⚙"},
              {"t": "2018-06-26T21:37Z", "p": 90.25, "g": "+"},
              {"t": "2018-06-27T07:04Z", "p": 90.25, "g": "✕"}
            ]
          },
          "encoding": {
            "x": {"field": "t", "type": "temporal"},
            "y": {"field": "p", "type": "quantitative"}
          },
          "layer": [
            {"mark": {"type": "square", "size": 160, "color": "#d2d2d2", "opacity": 1, "filled": true}},
            {"mark": {"type": "text", "color": "white", "fontSize": 10, "align": "center", "baseline": "middle", "font": "DejaVu Sans"},
             "encoding": {"text": {"field": "g"}}}
          ]
        }
      ]
    }
  ]
}
